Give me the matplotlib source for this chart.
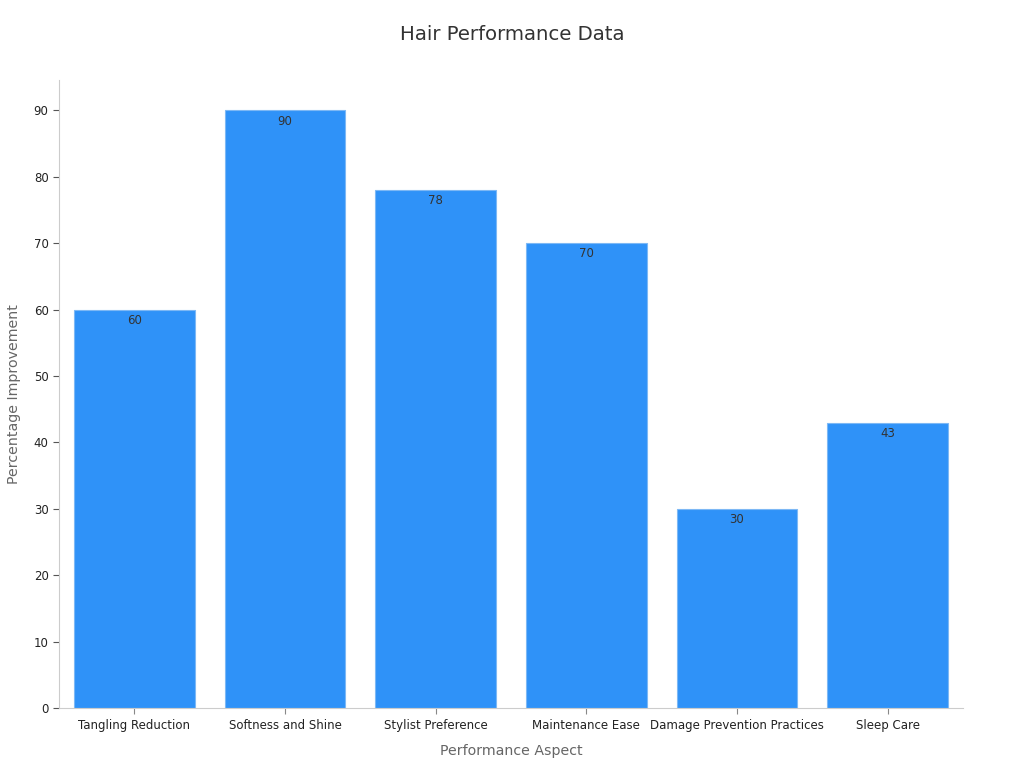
import matplotlib
matplotlib.use('Agg')
import matplotlib.pyplot as plt

categories = ['Tangling Reduction', 'Softness and Shine', 'Stylist Preference',
              'Maintenance Ease', 'Damage Prevention Practices', 'Sleep Care']
values = [60, 90, 78, 70, 30, 43]
y_ticks = [0, 10, 20, 30, 40, 50, 60, 70, 80, 90]

plt.rcParams['font.family'] = 'DejaVu Sans'

fig = plt.figure(figsize=(10.24, 7.68), dpi=100)
ax = fig.add_axes([0.0576, 0.078, 0.8828, 0.818])

x = range(len(categories))
ax.bar(x, values, width=0.8, color='#2f92f8', edgecolor='#7db8f5', linewidth=0.8)

for xi, v in zip(x, values):
    ax.annotate(str(v), (xi, v), xytext=(0, -3), textcoords='offset points',
                ha='center', va='top', fontsize=8.5, color='#333333')

ax.set_xlim(-0.5, 5.5)
ax.set_ylim(0, 94.6)
ax.set_xticks(list(x))
ax.set_xticklabels(categories, fontsize=8.5, color='#222222')
ax.set_yticks(y_ticks)
ax.tick_params(axis='y', labelsize=8.5, colors='#222222', length=4, color='#555555')
ax.tick_params(axis='x', length=4, color='#888888')

for s in ['top', 'right']:
    ax.spines[s].set_visible(False)
for s in ['left', 'bottom']:
    ax.spines[s].set_color('#cccccc')

ax.set_xlabel('Performance Aspect', fontsize=10.2, color='#666666', labelpad=9)
ax.set_ylabel('Percentage Improvement', fontsize=10.2, color='#666666', labelpad=9)
fig.suptitle('Hair Performance Data', fontsize=14.2, color='#333333', y=0.968)

fig.savefig('out.png', dpi=100)
